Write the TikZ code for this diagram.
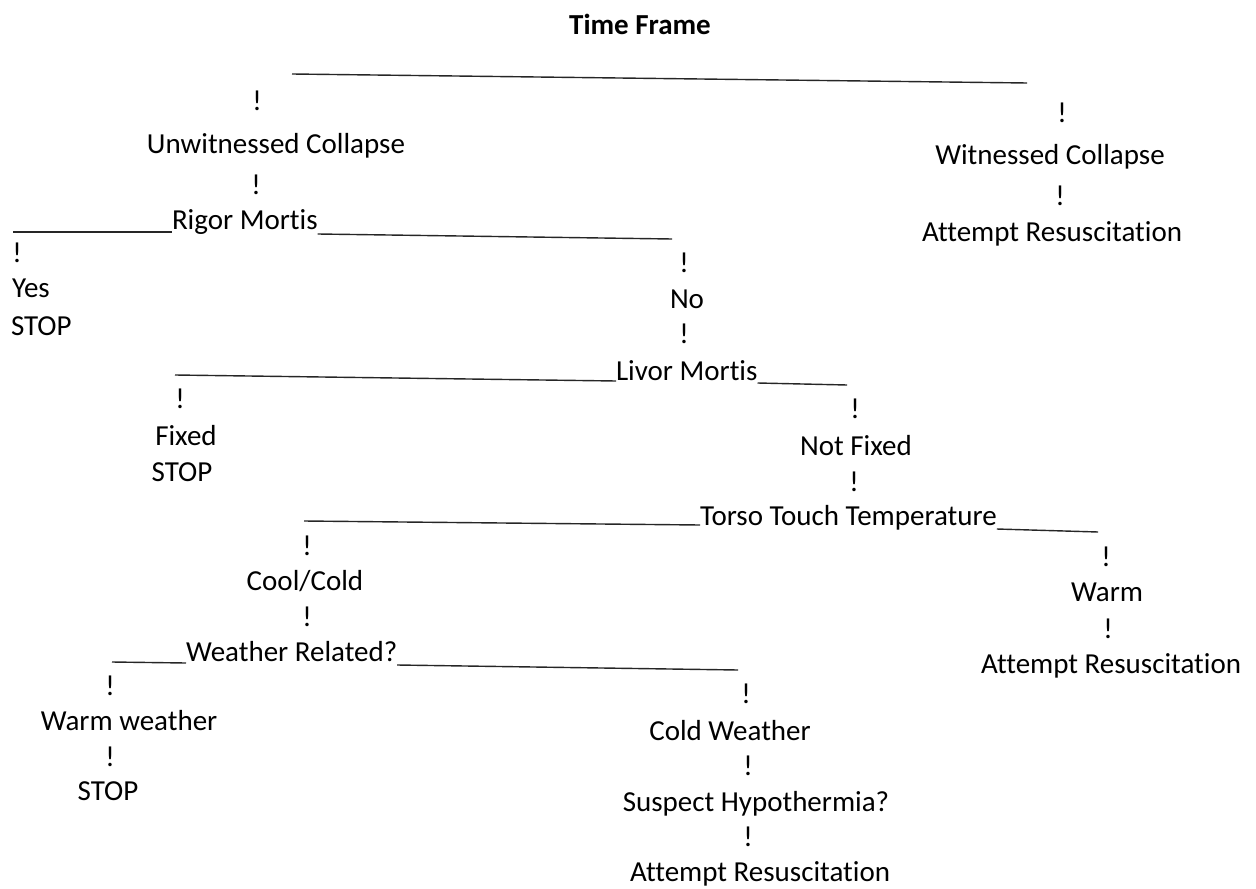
\documentclass[tikz,border=0pt]{standalone}
\usepackage{fontspec}
\setmainfont{Carlito}[Ligatures=NoCommon]
\begin{document}
\begin{tikzpicture}[x=0.02cm,y=-0.02cm,
  txt/.style={inner sep=0pt,outer sep=0pt,anchor=base,font=\fontsize{16.5}{19}\selectfont},
  txtw/.style={txt,anchor=base west},
  bang/.style={txt},
  rule/.style={line width=0.8pt,black!85}]
\useasboundingbox (0,-3) rectangle (1256,885);
% title
\node[txt,font=\fontsize{16.5}{19}\selectfont\bfseries] (title) at (640,32) {Time Frame};
\coordinate (tlL) at (292,71);
\coordinate (tlR) at (1027,80);
\draw[rule] (tlL) -- (tlR);
% left main branch
\node[bang] (e1) at (257,108) {!};
\node[txt] (unw) at (276,151) {Unwitnessed Collapse};
\node[bang] (e2) at (256,192) {!};
\node[txtw] (rigor) at (172,227) {Rigor Mortis};
\coordinate (rmL) at (13,229);
\coordinate (rmR) at (672,236);
\draw[rule] (rmL) -- (rmL -| rigor.west);
\draw[rule] (rigor.east |- 0,231) -- (rmR);
\node[bang] (e3) at (17,260) {!};
\node[txtw] (yes) at (12,295) {Yes};
\node[txtw] (stop1) at (11,332) {STOP};
\node[bang] (e4) at (684,270) {!};
\node[txt] (no) at (687,305) {No};
\node[bang] (e5) at (684,340) {!};
% livor
\node[txtw] (livor) at (616,377) {Livor Mortis};
\coordinate (lvL) at (175,372);
\coordinate (lvR) at (847,382);
\draw[rule] (lvL) -- (livor.west |- 0,378);
\draw[rule] (livor.east |- 0,380) -- (lvR);
\node[bang] (e6) at (180,405) {!};
\node[txt] (fixed) at (186,442) {Fixed};
\node[txt] (stop2) at (182,478) {STOP};
\node[bang] (e7) at (855,415) {!};
\node[txt] (notfixed) at (856,452) {Not Fixed};
\node[bang] (e8) at (854,488) {!};
% torso
\node[txtw] (torso) at (700,522) {Torso Touch Temperature};
\coordinate (ttL) at (304,518);
\coordinate (ttR) at (1098,529);
\draw[rule] (ttL) -- (torso.west |- 0,522);
\draw[rule] (torso.east |- 0,526) -- (ttR);
\node[bang] (e9) at (307,552) {!};
\node[txt] (cool) at (305,587) {Cool/Cold};
\node[bang] (e10) at (307,623) {!};
% weather
\node[txtw] (weather) at (186,658) {Weather Related?};
\coordinate (wrL) at (112,659);
\coordinate (wrR) at (738,667);
\draw[rule] (wrL) -- (weather.west |- 0,660);
\draw[rule] (weather.east |- 0,662) -- (wrR);
\node[bang] (e11) at (110,692) {!};
\node[txt] (warmw) at (129,727) {Warm weather};
\node[bang] (e12) at (110,763) {!};
\node[txt] (stop3) at (108,797) {STOP};
\node[bang] (e13) at (746,700) {!};
\node[txt] (coldw) at (730,737) {Cold Weather};
\node[bang] (e14) at (748,772) {!};
\node[txt] (susp) at (756,808) {Suspect Hypothermia?};
\node[bang] (e15) at (748,843) {!};
\node[txt] (att3) at (760,878) {Attempt Resuscitation};
% warm branch
\node[bang] (e16) at (1106,563) {!};
\node[txt] (warm) at (1107,598) {Warm};
\node[bang] (e17) at (1108,635) {!};
\node[txt] (att2) at (1111,670) {Attempt Resuscitation};
% witnessed branch
\node[bang] (e18) at (1062,120) {!};
\node[txt] (witn) at (1050,162) {Witnessed Collapse};
\node[bang] (e19) at (1060,203) {!};
\node[txt] (att1) at (1052,239) {Attempt Resuscitation};
\end{tikzpicture}
\end{document}
